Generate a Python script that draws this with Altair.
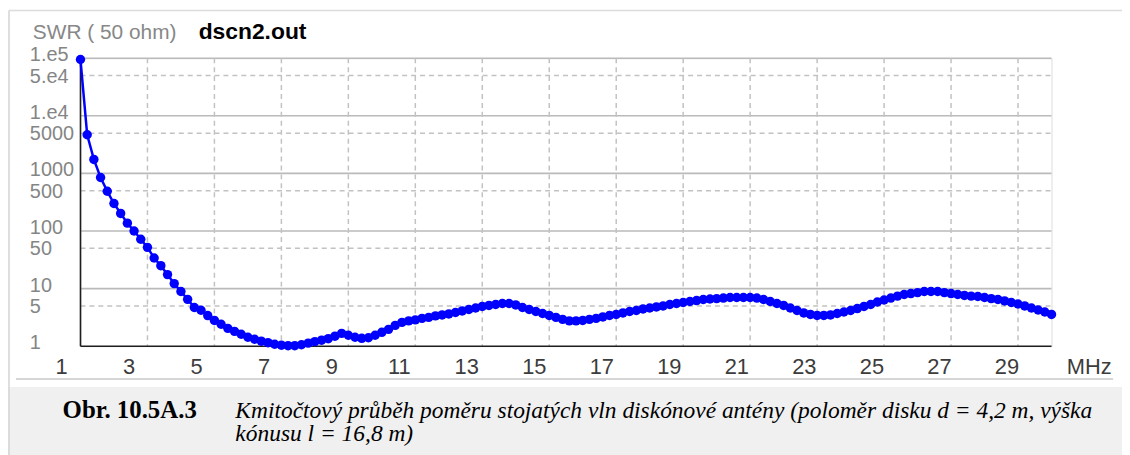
import altair as alt
import pandas as pd

# ---------------- data ----------------
freq_start = 1.0   # MHz
freq_step = 0.2    # MHz
swr_values = [
    95000, 4700, 1750, 850, 490, 300, 202, 137, 100, 72, 52, 34, 25, 17.5, 12.2, 8.9, 6.5, 4.7,
    4.2, 3.4, 2.8, 2.4, 2.04, 1.81, 1.61, 1.43, 1.32, 1.22, 1.15, 1.08, 1.04,
    1.02, 1.02, 1.06, 1.13, 1.2, 1.27, 1.35, 1.49, 1.67, 1.55, 1.43, 1.37, 1.40, 1.55, 1.74,
    1.96, 2.3, 2.59, 2.75, 2.86, 3.04, 3.16, 3.36, 3.49, 3.63, 3.85, 4.09, 4.34, 4.6, 4.9,
    5.1, 5.3, 5.5, 5.5, 5.2, 4.7, 4.34, 4.0, 3.7, 3.42, 3.16, 2.92, 2.75, 2.75, 2.8,
    2.92, 3.04, 3.22, 3.42, 3.56, 3.78, 4.0, 4.17, 4.43, 4.6, 4.8, 5.0, 5.3, 5.5, 5.74,
    5.97, 6.2, 6.46, 6.6, 6.7, 6.85, 7.0, 7.0, 7.0, 7.0, 6.85, 6.46, 5.97, 5.5, 5.1,
    4.6, 4.17, 3.78, 3.56, 3.42, 3.42, 3.49, 3.7, 3.92, 4.17, 4.5, 4.9, 5.3, 5.85, 6.33,
    6.85, 7.4, 7.9, 8.2, 8.5, 8.9, 8.9, 8.9, 8.5, 8.2, 7.9, 7.6, 7.4, 7.3, 7.0,
    6.7, 6.46, 6.1, 5.74, 5.4, 5.0, 4.6, 4.25, 3.92, 3.56,
]
freqs = [round(freq_start + freq_step * i, 1) for i in range(len(swr_values))]

x_grid_values = [3, 5, 7, 9, 11, 13, 15, 17, 19, 21, 23, 25, 27, 29]
x_tick_values = [1, 3, 5, 7, 9, 11, 13, 15, 17, 19, 21, 23, 25, 27, 29]
x_tick_labels = [str(v) for v in x_tick_values]
y_major = [1, 10, 100, 1000, 10000, 100000]
y_major_labels = ["1", "10", "100", "1000", "1.e4", "1.e5"]
y_minor = [5, 50, 500, 5000, 50000]
y_minor_labels = ["5", "50", "500", "5000", "5.e4"]

title_left = "SWR ( 50 ohm)"
title_file = "dscn2.out"
x_unit = "MHz"
caption_label = "Obr. 10.5A.3"
caption_line1 = "Kmitočtový průběh poměru stojatých vln diskónové antény (poloměr disku d = 4,2 m, výška"
caption_line2 = "kónusu l = 16,8 m)"

# ---------------- layout ----------------
W, H = 978, 290
PAD = {"left": 73, "top": 49, "right": 71, "bottom": 108}
SANS = "Liberation Sans"
SERIF = "Liberation Serif"

xscale = alt.Scale(domain=[1, 30], nice=False, zero=False)
yscale = alt.Scale(type="log", domain=[1, 100000], nice=False)
label_scale = alt.Scale(domain=[1.559, 30.32], nice=False, zero=False)

one = pd.DataFrame({"k": [0]})
df = pd.DataFrame({"f": freqs, "swr": swr_values})
major_df = pd.DataFrame({"v": y_major, "t": y_major_labels})
minor_df = pd.DataFrame({"v": y_minor, "t": y_minor_labels})

# caption background and frame
caption_bg = alt.Chart(one).mark_rect(color="#f0f0f0").encode(
    x=alt.value(-73), x2=alt.value(W + 71), y=alt.value(331), y2=alt.value(400)
)
sep_line = alt.Chart(one).mark_rule(color="#c8c8c8", strokeWidth=1.5).encode(
    x=alt.value(-65), x2=alt.value(1040), y=alt.value(323)
)
top_border = alt.Chart(one).mark_rule(color="#dcdcdc", strokeWidth=1.5).encode(
    x=alt.value(-72), x2=alt.value(W + 71), y=alt.value(-48)
)
left_border = alt.Chart(one).mark_rule(color="#d4d4d4", strokeWidth=1.5).encode(
    x=alt.value(-72), y=alt.value(-48), y2=alt.value(400)
)

# grid
h_major = alt.Chart(major_df).transform_filter("datum.v > 1").mark_rule(
    color="#bababa", strokeWidth=1.6
).encode(y=alt.Y("v:Q", scale=yscale, axis=None), x=alt.value(0), x2=alt.value(W))
h_minor = alt.Chart(minor_df).mark_rule(
    color="#c2c2c2", strokeWidth=1.5, strokeDash=[5, 4]
).encode(y=alt.Y("v:Q", scale=yscale, axis=None), x=alt.value(0), x2=alt.value(W))
v_grid = alt.Chart(pd.DataFrame({"v": x_grid_values})).mark_rule(
    color="#c2c2c2", strokeWidth=1.5, strokeDash=[5, 4]
).encode(x=alt.X("v:Q", scale=xscale, axis=None), y=alt.value(0), y2=alt.value(H))

# axis lines
axis_bottom = alt.Chart(one).mark_rule(color="#1e1e1e", strokeWidth=1.6).encode(
    x=alt.value(0), x2=alt.value(W), y=alt.value(H)
)
axis_left = alt.Chart(one).mark_rule(color="#1e1e1e", strokeWidth=1.6).encode(
    x=alt.value(0), y=alt.value(0), y2=alt.value(H)
)

# data
line = alt.Chart(df).mark_line(color="#0000ff", strokeWidth=2.5).encode(
    x=alt.X("f:Q", scale=xscale, axis=None),
    y=alt.Y("swr:Q", scale=yscale, axis=None),
)
points = alt.Chart(df).mark_circle(color="#0000ff", size=90, opacity=1).encode(
    x=alt.X("f:Q", scale=xscale, axis=None),
    y=alt.Y("swr:Q", scale=yscale, axis=None),
)

# y tick labels (through the y scale)
y_labels_major = alt.Chart(major_df).mark_text(
    font=SANS, fontSize=20, color="#858585", align="left", baseline="alphabetic", dy=3
).encode(y=alt.Y("v:Q", scale=yscale, axis=None), x=alt.value(-51), text="t:N")
y_labels_minor = alt.Chart(minor_df).mark_text(
    font=SANS, fontSize=20, color="#858585", align="left", baseline="alphabetic", dy=7
).encode(y=alt.Y("v:Q", scale=yscale, axis=None), x=alt.value(-51), text="t:N")

# x tick labels (drawn through their own scale)
x_labels = alt.Chart(pd.DataFrame({"v": x_tick_values, "t": x_tick_labels})).mark_text(
    font=SANS, fontSize=22, color="#3c3c3c", align="center", baseline="alphabetic"
).encode(x=alt.X("v:Q", scale=label_scale, axis=None), y=alt.value(318), text="t:N")


def txt(s, x, y, **kw):
    return alt.Chart(one).mark_text(text=s, baseline="alphabetic", **kw).encode(
        x=alt.value(x), y=alt.value(y)
    )


t_swr = txt(title_left, -48, -19, align="left", font=SANS, fontSize=21, color="#878787")
t_file = txt(title_file, 119, -19, align="left", font=SANS, fontSize=23, fontWeight="bold", color="#000000")
t_mhz = txt(x_unit, 1016, 318, align="center", font=SANS, fontSize=22, color="#3c3c3c")
c_lab = txt(caption_label, -18, 362, align="left", font=SERIF, fontSize=25, fontWeight="bold", color="#000000")
c_l1 = txt(caption_line1, 156, 362, align="left", font=SERIF, fontSize=23.6, fontStyle="italic", color="#000000")
c_l2 = txt(caption_line2, 156, 386, align="left", font=SERIF, fontSize=23.6, fontStyle="italic", color="#000000")

chart = alt.layer(
    caption_bg, sep_line, top_border, left_border,
    h_major, h_minor, v_grid, axis_bottom, axis_left,
    line, points, y_labels_major, y_labels_minor, x_labels,
    t_swr, t_file, t_mhz, c_lab, c_l1, c_l2,
).resolve_scale(x="independent").properties(
    width=W, height=H, padding=PAD, autosize=alt.AutoSizeParams(type="none")
).configure_view(stroke=None).configure(background="#ffffff")

chart.save("out.html", embed_options={"renderer": "svg", "actions": False})
